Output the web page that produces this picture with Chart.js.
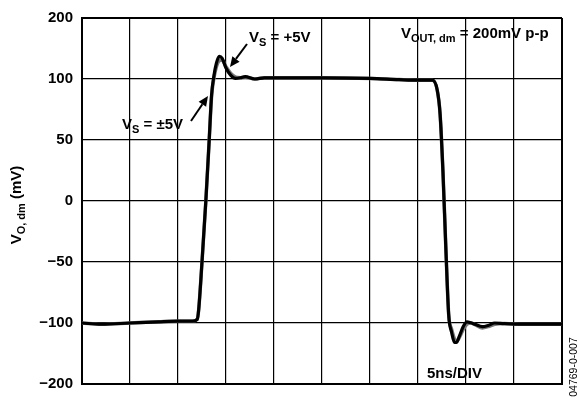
<!DOCTYPE html>
<html><head><meta charset="utf-8">
<script src="https://cdn.jsdelivr.net/npm/chart.js@4/dist/chart.umd.min.js"></script>
<style>html,body{margin:0;padding:0;background:#fff}canvas{display:block}</style>
</head><body>
<canvas id="c" width="579" height="402"></canvas>
<script>
// time axis in ns (5 ns/div, 10 divisions)
const timeNs = [0,2,5,8,10,11.5,12.0,12.15,12.5,12.9,13.25,13.5,13.75,14.0,14.3,14.6,15.0,15.5,16.0,16.5,17,18,19,20,25,30,33,35,36.5,37.0,37.3,37.6,37.9,38.2,38.5,38.8,39.0,39.3,39.7,40.1,40.5,41,41.7,42.3,43,44,46,48,50];
// VS = ±5V trace (black)
const vsDual = [-100,-101,-100,-99,-98.5,-98.5,-97,-89.5,-50,0,50,87,103,113,118.5,117,109,103,100.5,101,102,100,101,101,101,100.5,99.5,99,99,91,71.5,24,-38.5,-93.5,-107.6,-116,-116,-111,-103,-99,-99.8,-101.3,-103,-102,-100,-100.5,-101,-101,-101];
// VS = +5V trace (grey)
const vsSingle = [-100,-101,-100,-99,-98.5,-98.5,-97,-89.5,-50,0,50,86,101,110,115,115.5,110,104.5,101.5,101,101.5,100,101,101,101,100.5,99.5,99,99,91,71.5,24,-38.5,-93.5,-105,-113,-115,-112,-105.5,-101,-100,-101.5,-104,-103,-101,-100.5,-101,-101,-101];
// y grid positions and the labels printed at them
const yTickValues = [-150,-100,-50,0,50,100,150];
const yTickLabels = ['\u2212200','\u2212100','\u221250','0','50','100','200'];
const xTickValues = [0,5,10,15,20,25,30,35,40,45,50];

const FONT = '"Liberation Sans", Arial, sans-serif';

function drawParts(ctx, x, y, parts) {
  let cx = x;
  for (const p of parts) {
    ctx.font = 'bold ' + p.size + 'px ' + FONT;
    ctx.fillText(p.t, cx, y + (p.dy || 0));
    cx += ctx.measureText(p.t).width;
  }
}
function partsWidth(ctx, parts) {
  let w = 0;
  for (const p of parts) { ctx.font = 'bold ' + p.size + 'px ' + FONT; w += ctx.measureText(p.t).width; }
  return w;
}
function arrow(ctx, x1, y1, x2, y2) {
  const ang = Math.atan2(y2 - y1, x2 - x1);
  const hl = 10, hw = 4.5;
  const bx = x2 - hl * Math.cos(ang), by = y2 - hl * Math.sin(ang);
  ctx.beginPath();
  ctx.lineWidth = 2;
  ctx.strokeStyle = '#000';
  ctx.moveTo(x1, y1); ctx.lineTo(bx, by); ctx.stroke();
  ctx.beginPath();
  ctx.moveTo(x2, y2);
  ctx.lineTo(bx + hw * Math.sin(ang), by - hw * Math.cos(ang));
  ctx.lineTo(bx - hw * Math.sin(ang), by + hw * Math.cos(ang));
  ctx.closePath();
  ctx.fillStyle = '#000';
  ctx.fill();
}

const annot = {
  id: 'annot',
  afterDraw(chart) {
    const ctx = chart.ctx;
    ctx.save();
    ctx.fillStyle = '#000';
    ctx.textBaseline = 'alphabetic';
    ctx.textAlign = 'left';
    drawParts(ctx, 249, 42, [{t:'V',size:15},{t:'S',size:11,dy:4},{t:' = +5V',size:15}]);
    drawParts(ctx, 122, 129, [{t:'V',size:15},{t:'S',size:11,dy:4},{t:' = \u00b15V',size:15}]);
    drawParts(ctx, 401, 38, [{t:'V',size:15},{t:'OUT, dm',size:11,dy:4},{t:' = 200mV p-p',size:15}]);
    drawParts(ctx, 427, 378, [{t:'5ns/DIV',size:15}]);
    arrow(ctx, 247, 44, 230, 67);
    arrow(ctx, 191, 121, 208, 96);
    const tp = [{t:'V',size:15},{t:'O, dm',size:11,dy:4},{t:' (mV)',size:15}];
    const w = partsWidth(ctx, tp);
    ctx.save();
    ctx.translate(21, 205);
    ctx.rotate(-Math.PI / 2);
    ctx.fillStyle = '#000';
    drawParts(ctx, -w / 2, 0, tp);
    ctx.restore();
    ctx.save();
    ctx.translate(577, 367);
    ctx.rotate(-Math.PI / 2);
    ctx.font = '10.5px ' + FONT;
    ctx.textAlign = 'center';
    ctx.fillText('04769-0-007', 0, 0);
    ctx.restore();
    ctx.restore();
  }
};

new Chart(document.getElementById('c'), {
  type: 'line',
  data: {
    datasets: [
      { label: 'VS = +5V', order: 2, data: timeNs.map((t, i) => ({x: t, y: vsSingle[i]})),
        borderColor: '#777', borderWidth: 3.5 },
      { label: 'VS = ±5V', order: 1, data: timeNs.map((t, i) => ({x: t, y: vsDual[i]})),
        borderColor: '#000', borderWidth: 3.2 }
    ]
  },
  options: {
    responsive: false,
    animation: false,
    devicePixelRatio: 1,
    layout: { padding: { top: 14, right: 17, bottom: 5, left: 0 } },
    elements: { point: { radius: 0 }, line: { cubicInterpolationMode: 'monotone', borderCapStyle: 'round', borderJoinStyle: 'round' } },
    plugins: { legend: { display: false }, tooltip: { enabled: false } },
    scales: {
      x: {
        type: 'linear', min: 0, max: 50,
        afterBuildTicks: s => { s.ticks = xTickValues.map(v => ({value: v})); },
        afterFit: s => { s.height = 0; },
        ticks: { display: false },
        grid: { color: '#000', drawTicks: false,
          lineWidth: c => (c.tick && (c.tick.value === 0 || c.tick.value === 50)) ? 2 : 1.2 },
        border: { display: true, color: '#000', width: 2 }
      },
      y: {
        type: 'linear', min: -150, max: 150,
        afterBuildTicks: s => { s.ticks = yTickValues.map(v => ({value: v})); },
        afterFit: s => { s.width = 82; },
        ticks: { padding: 9, color: '#000', font: { family: FONT, size: 15, weight: 'bold' },
          callback: v => yTickLabels[yTickValues.indexOf(v)] },
        grid: { color: '#000', drawTicks: false,
          lineWidth: c => (c.tick && (c.tick.value === 150 || c.tick.value === -150)) ? 2 : 1.2 },
        border: { display: true, color: '#000', width: 2 }
      }
    }
  },
  plugins: [annot]
});
</script>
</body></html>
